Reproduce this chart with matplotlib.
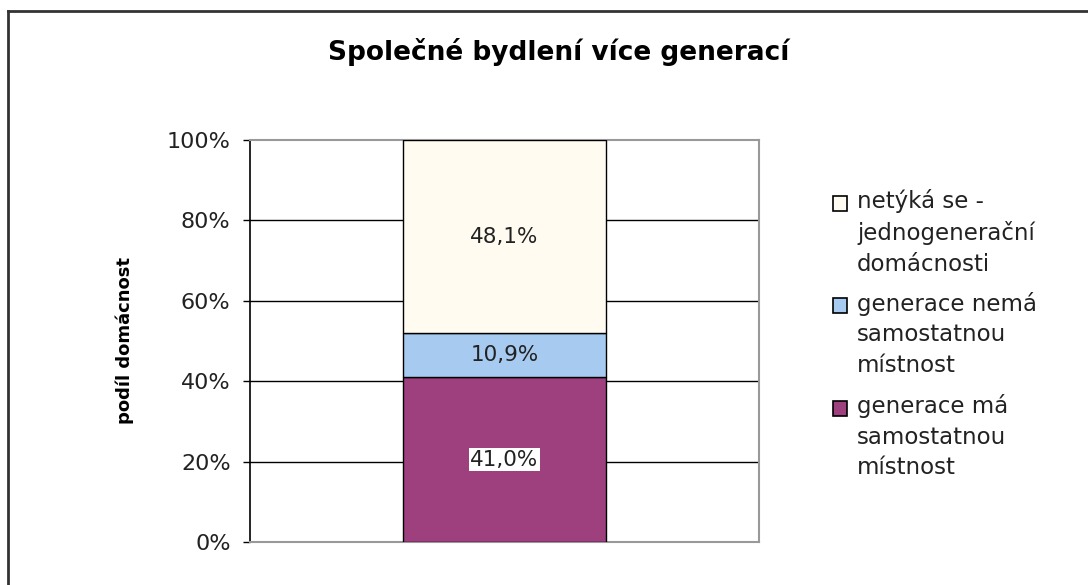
import matplotlib
matplotlib.use("Agg")
import matplotlib.pyplot as plt
from matplotlib.lines import Line2D
from matplotlib.patches import Rectangle

plt.rcParams['font.family'] = ['DejaVu Sans']

# data (share of households, %)
labels = ['generace má\nsamostatnou\nmístnost',
          'generace nemá\nsamostatnou\nmístnost',
          'netýká se -\njednogenerační\ndomácnosti']
values = [41.0, 10.9, 48.1]
colors = ['#9E3F7E', '#A6CAF0', '#FFFBF0']
yticks = [0, 20, 40, 60, 80, 100]

fig = plt.figure(figsize=(10.88, 5.85), dpi=100)
W, H = 1088, 585
ax = fig.add_axes([250 / W, 1 - 542 / H, (759 - 250) / W, (542 - 140) / H])

bottom = 0
for v, c, lab in zip(values, colors, labels):
    ax.bar(0, v, width=0.4, bottom=bottom, color=c, edgecolor='black',
           linewidth=1.0, label=lab, zorder=3)
    txt = ('%.1f%%' % v).replace('.', ',')
    kw = {}
    if v == values[0]:
        kw['bbox'] = dict(facecolor='white', edgecolor='none', pad=1)
    ax.text(0, bottom + v / 2, txt, ha='center', va='center',
            fontsize=15.5, color='#222222', zorder=4, **kw)
    bottom += v

ax.set_xlim(-0.5, 0.5)
ax.set_ylim(0, 100)
ax.set_xticks([])
ax.set_yticks(yticks)
ax.set_yticklabels(['%d%%' % t for t in yticks], fontsize=16, color='#222222')
ax.tick_params(axis='y', length=5, width=1, color='black', pad=9)
for t in yticks[1:-1]:
    ax.axhline(t, color='black', linewidth=1, zorder=1)

ax.spines['left'].set_color('black')
ax.spines['left'].set_linewidth(1.2)
for s in ['top', 'right', 'bottom']:
    ax.spines[s].set_color('#999999')
    ax.spines[s].set_linewidth(1.5)

ax.set_ylabel('podíl domácnost', fontsize=13, fontweight='bold')
ax.yaxis.set_label_coords((134 - 250) / 509, 0.5)
fig.text(559 / W, 1 - 52 / H, 'Společné bydlení více generací',
         ha='center', va='center', fontsize=19, fontweight='bold')

# legend: square aligned with the first line of each entry, top entry first
for i, (lab, c) in enumerate(zip(labels[::-1], colors[::-1])):
    yc = 203 + i * 102.5
    fig.add_artist(Rectangle((833 / W, 1 - (yc + 7.5) / H), 14 / W, 15 / H,
                             facecolor=c, edgecolor='black', linewidth=1.2,
                             transform=fig.transFigure))
    t = fig.text(857 / W, 1 - (yc - 14) / H, lab, ha='left', va='top',
                 fontsize=16.5, color='#222222')
    t.set_linespacing(1.42)

# outer chart border (only top and left visible in the crop)
fig.add_artist(Line2D([8 / W, 8 / W], [0, 1 - 11 / H], color='#333333',
                      linewidth=2, transform=fig.transFigure))
fig.add_artist(Line2D([8 / W, 1], [1 - 11 / H, 1 - 11 / H], color='#333333',
                      linewidth=2, transform=fig.transFigure))

fig.savefig('out.png', dpi=100, facecolor='white')
